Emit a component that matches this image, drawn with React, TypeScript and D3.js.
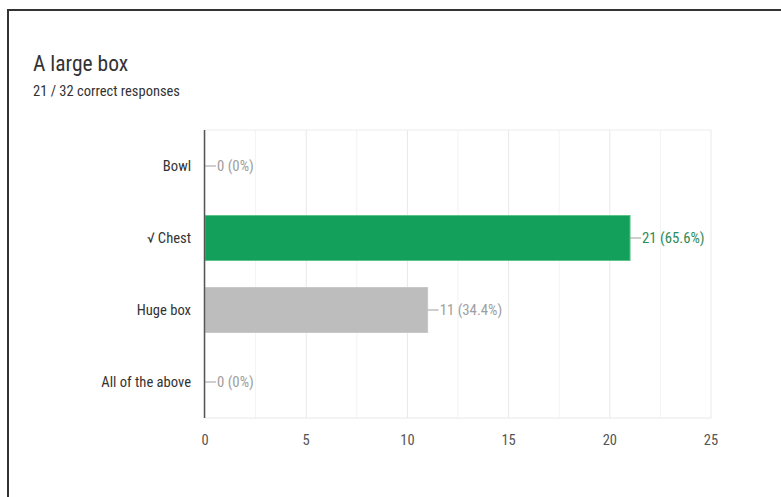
import React from "react";
import * as d3 from "d3";

const categories = ["Bowl", "√ Chest", "Huge box", "All of the above"];
const counts = [0, 21, 11, 0];
const percents = ["0%", "65.6%", "34.4%", "0%"];
const correct = [false, true, false, false];
const xTicks = [0, 5, 10, 15, 20, 25];
const minorTicks = [2.5, 7.5, 12.5, 17.5, 22.5];
const title = "A large box";
const subtitle = "21 / 32 correct responses";

const W = 781, H = 497;
const left = 205, right = 711, top = 130, bottom = 418;
const FONT = "'Roboto Condensed', 'Liberation Sans Narrow', 'DejaVu Sans Condensed', Roboto, sans-serif";

export default function App() {
  const x = d3.scaleLinear().domain([0, 25]).range([left, right]);
  const y = d3.scaleBand().domain(categories).range([top, bottom]).paddingInner(0.375).paddingOuter(0.1875);
  return (
    <svg width={W} height={H} style={{ position: "absolute", left: 0, top: 0, background: "#fff" }} fontFamily={FONT}>
      <rect x={0} y={0} width={W} height={H} fill="#fff" />
      <line x1={8} y1={10} x2={W} y2={10} stroke="#333" strokeWidth={2} />
      <line x1={8} y1={9} x2={8} y2={H} stroke="#333" strokeWidth={2} />
      <text x={33} y={71} fontSize={21.5} fill="#333">{title}</text>
      <text x={33} y={96} fontSize={14.5} fill="#333">{subtitle}</text>
      {minorTicks.map((t) => (
        <line key={"m" + t} x1={x(t)} x2={x(t)} y1={top} y2={bottom} stroke="#f3f3f3" />
      ))}
      {xTicks.map((t) => (
        <line key={"g" + t} x1={x(t)} x2={x(t)} y1={top} y2={bottom} stroke="#e8e8e8" />
      ))}
      <line x1={left} x2={right} y1={top} y2={top} stroke="#ececec" />
      <line x1={left} x2={right} y1={bottom} y2={bottom} stroke="#e8e8e8" />
      {categories.map((c, i) => {
        const yc = (y(c) as number) + y.bandwidth() / 2;
        const end = x(counts[i]);
        const col = correct[i] ? "#12a05a" : "#bdbdbd";
        const tcol = correct[i] ? "#2e8b57" : "#9e9e9e";
        return (
          <g key={c}>
            {counts[i] > 0 && (
              <rect x={left} y={y(c)} width={end - left} height={y.bandwidth()} fill={col} stroke={correct[i] ? "#5cc28a" : "#c8c8c8"} strokeWidth={1} />
            )}
            <line x1={end} x2={end + 11} y1={yc} y2={yc} stroke="#9e9e9e" />
            <text x={end + 12} y={yc} dy="0.35em" fontSize={14.8} fill={tcol}>{`${counts[i]} (${percents[i]})`}</text>
            <text x={191} y={yc} dy="0.35em" fontSize={14.6} textAnchor="end" fill="#333">{c}</text>
          </g>
        );
      })}
      <line x1={left - 0.5} x2={left - 0.5} y1={top} y2={bottom} stroke="#555" strokeWidth={1.5} />
      {xTicks.map((t) => (
        <text key={"t" + t} x={x(t)} y={445} fontSize={14.5} textAnchor="middle" fill="#555">{t}</text>
      ))}
    </svg>
  );
}
